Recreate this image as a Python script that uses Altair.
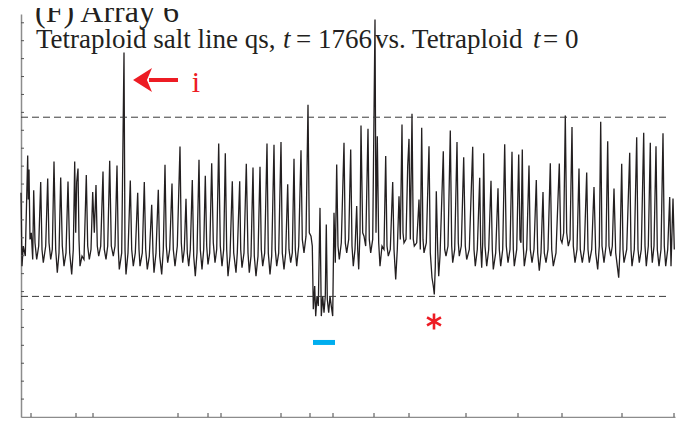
import altair as alt
import pandas as pd

# (position along genome, log2 ratio)
probes_left = [
    (0.0, 0.078), (1.0, -0.331), (2.3, -0.219), (4.3, -0.275), (6.7, 0.286), (7.3, 0.041), (8.0, 0.208),
    (9.0, -0.182), (10.3, -0.145), (11.7, -0.294), (12.7, 0.093), (14.0, -0.201), (15.7, -0.294),
    (17.7, -0.219), (19.7, 0.138), (21.0, -0.238), (22.3, -0.312), (24.7, -0.219), (26.7, 0.158),
    (28.0, -0.201), (29.7, -0.294), (31.3, -0.238), (33.0, 0.253), (34.7, -0.238), (36.3, -0.368),
    (38.0, -0.257), (39.7, 0.164), (41.3, -0.219), (43.0, -0.331), (45.0, -0.257), (47.0, 0.141),
    (48.7, -0.257), (50.7, -0.377), (52.3, -0.238), (53.7, 0.253), (54.7, -0.145), (55.7, 0.138),
    (57.0, 0.214), (58.0, -0.182), (59.0, -0.331), (61.0, -0.275), (63.0, -0.294), (65.3, 0.178),
    (66.7, -0.219), (68.3, -0.294), (70.0, -0.238), (71.7, 0.082), (73.3, -0.145), (75.0, 0.121),
    (76.3, -0.219), (77.7, -0.275), (79.7, -0.219), (82.0, 0.197), (83.3, -0.238), (85.0, -0.294),
    (86.7, -0.219), (88.7, 0.257), (90.3, -0.219), (92.3, -0.275), (94.0, -0.219), (96.0, 0.230),
    (97.3, -0.238), (98.3, -0.349), (100.7, -0.257), (103.0, 0.861), (104.0, -0.238), (105.0, -0.377),
    (107.0, -0.257), (109.3, 0.147), (110.7, -0.238), (112.3, -0.331), (114.3, -0.257), (116.7, 0.078),
    (118.0, -0.238), (119.0, -0.331), (121.3, -0.257), (123.3, 0.138), (124.7, -0.238), (126.3, -0.349),
    (128.3, -0.275), (130.7, 0.011), (132.0, -0.257), (133.0, -0.368), (135.0, -0.257), (137.3, 0.095),
    (138.7, -0.275), (140.7, -0.377), (142.3, -0.238), (144.0, 0.234), (145.3, -0.219), (146.7, -0.312),
    (148.7, -0.238), (151.0, 0.130), (152.3, -0.238), (154.0, -0.331), (156.3, -0.219), (159.0, 0.336),
    (160.3, -0.201), (161.7, -0.312), (163.3, -0.238), (165.0, 0.045), (166.3, -0.257), (167.7, -0.331),
    (169.3, -0.238), (171.3, 0.149), (172.7, -0.275), (174.3, -0.387), (176.0, -0.257), (178.0, 0.262),
    (179.3, -0.238), (181.0, -0.349), (182.7, -0.238), (184.3, 0.173), (185.7, -0.219), (187.0, -0.322),
    (188.7, -0.257), (190.7, 0.243), (192.3, -0.201), (194.0, -0.312), (195.7, -0.238), (197.7, 0.353),
    (199.3, -0.219), (201.0, -0.331), (202.7, -0.238), (204.3, 0.299), (205.7, -0.238), (207.0, -0.387),
    (209.0, -0.275), (211.3, 0.143), (212.7, -0.257), (215.0, -0.368), (216.3, -0.257),
]

probes_mid = [
    (218.7, 0.143), (219.7, -0.238), (221.0, -0.340), (223.0, -0.257), (225.3, 0.240), (227.0, -0.257),
    (228.3, -0.368), (230.0, -0.275), (232.0, 0.219), (233.3, -0.275), (235.0, -0.387), (237.0, -0.275),
    (239.0, 0.223), (240.3, -0.238), (241.7, -0.331), (243.7, -0.257), (246.0, 0.353), (247.3, -0.257),
    (249.0, -0.377), (250.7, -0.275), (253.0, 0.346), (254.3, -0.238), (255.7, -0.331), (257.7, -0.257),
    (260.0, 0.362), (261.3, -0.257), (263.0, -0.349), (264.7, -0.257), (266.7, 0.126), (268.0, -0.238),
    (269.7, -0.312), (271.3, -0.257), (273.0, 0.268), (274.3, -0.238), (275.7, -0.331), (277.7, -0.219),
    (280.0, 0.316), (281.3, -0.182), (283.0, -0.257), (285.0, -0.164), (287.0, 0.569), (288.3, -0.145),
    (290.0, -0.164), (291.3, -0.219), (292.3, -0.572), (293.7, -0.442), (294.7, -0.610), (296.0, -0.498),
    (297.3, -0.554), (299.0, -0.006), (300.3, -0.610), (301.7, -0.498), (303.0, -0.591), (304.3, -0.498),
    (305.3, -0.099), (306.3, -0.517), (307.7, -0.591), (309.0, -0.498), (310.3, -0.554), (311.7, -0.610),
    (313.0, -0.033), (314.3, -0.312), (315.7, 0.236), (317.0, -0.219), (318.3, -0.294), (320.3, -0.201),
    (323.0, 0.357), (324.3, -0.201), (325.7, -0.257), (327.7, -0.182), (329.7, 0.320), (331.0, -0.219),
    (332.3, -0.331), (334.0, -0.238), (335.7, 0.004), (336.7, -0.238), (337.7, -0.349), (339.0, -0.145),
    (340.0, 0.454), (341.7, -0.145), (343.0, -0.164), (344.7, -0.219), (347.0, 0.435), (348.3, -0.182),
    (349.7, -0.257), (351.7, -0.182), (354.0, 1.045), (355.0, -0.145), (356.3, 0.394), (357.7, -0.201),
    (359.0, -0.331), (361.0, -0.219), (363.0, -0.238), (364.7, 0.283), (366.0, -0.219), (367.3, -0.275),
    (369.3, -0.238), (371.7, 0.139), (373.0, -0.238), (374.7, -0.405), (376.3, -0.238), (378.0, 0.059),
    (379.3, -0.182), (381.0, 0.459), (382.0, -0.145), (383.0, -0.201), (385.0, -0.182), (386.7, 0.227),
    (388.0, 0.379), (389.3, -0.182), (391.0, 0.519), (392.3, -0.182), (393.3, -0.219), (395.7, -0.201),
    (398.0, 0.041), (399.3, -0.238), (400.7, 0.441), (402.0, -0.182), (403.0, -0.257), (405.3, -0.201),
    (408.0, 0.338), (409.3, -0.257), (411.0, -0.396), (412.3, -0.442), (413.3, -0.489), (414.3, -0.331),
    (415.3, 0.087), (416.7, -0.238), (417.7, -0.387), (419.0, -0.275),
]

probes_right = [
    (422.3, 0.310), (423.7, -0.238), (425.0, -0.275), (427.0, -0.219), (429.3, 0.426), (430.7, -0.219),
    (431.7, -0.312), (433.7, -0.238), (436.0, 0.361), (437.3, -0.201), (438.3, -0.275), (440.3, -0.219),
    (442.7, 0.277), (444.3, -0.219), (445.7, -0.294), (448.3, -0.238), (451.7, 0.335), (453.0, -0.238),
    (454.3, -0.331), (456.3, -0.238), (458.7, 0.162), (459.7, -0.219), (460.7, -0.340), (461.7, -0.201),
    (462.7, 0.299), (464.0, -0.219), (465.7, -0.331), (467.7, -0.238), (470.0, 0.145), (471.3, -0.238),
    (472.3, -0.349), (474.7, -0.257), (477.0, 0.104), (478.3, -0.238), (479.7, -0.331), (481.7, -0.238),
    (483.7, 0.349), (485.3, -0.219), (487.0, -0.312), (489.0, -0.238), (491.0, 0.307), (492.3, -0.238),
    (493.3, -0.331), (495.7, -0.238), (497.7, 0.292), (499.0, -0.182), (500.0, -0.201), (501.3, 0.320),
    (502.3, -0.219), (503.3, -0.331), (505.7, -0.238), (508.0, 0.230), (509.3, -0.238), (511.0, -0.312),
    (513.0, -0.238), (515.3, 0.149), (516.7, -0.257), (518.3, -0.357), (520.0, -0.257), (522.0, 0.082),
    (523.3, -0.257), (525.0, -0.312), (527.0, -0.238), (529.3, 0.243), (530.7, -0.238), (532.3, -0.331),
    (535.0, -0.257), (538.3, 0.242), (539.7, -0.182), (541.0, -0.201), (542.7, -0.145), (544.3, 0.509),
    (545.7, -0.145), (547.3, -0.219), (549.0, -0.182), (551.0, 0.446), (552.3, -0.219), (554.0, -0.312),
    (556.0, -0.238), (558.0, 0.214), (559.3, -0.238), (561.3, -0.312), (563.3, -0.238), (565.7, 0.191),
    (567.0, -0.238), (568.3, -0.312), (570.7, -0.238), (573.0, 0.110), (574.7, -0.257), (576.7, -0.349),
    (578.3, -0.219), (579.7, 0.474), (581.0, -0.219), (583.0, -0.312), (585.0, -0.219), (586.7, 0.366),
    (588.0, -0.219), (589.7, -0.275), (591.3, -0.219), (593.0, 0.102), (594.7, -0.257), (596.3, -0.331),
    (597.7, -0.396), (599.0, -0.238), (600.7, 0.240), (602.0, -0.238), (603.0, -0.312), (605.7, -0.238),
    (608.7, 0.301), (610.0, -0.238), (611.0, -0.331), (613.3, -0.238), (615.7, 0.388), (617.0, -0.238),
    (618.3, -0.312), (620.3, -0.238), (622.7, 0.413), (624.0, -0.219), (625.3, -0.331), (627.3, -0.219),
    (629.3, 0.357), (630.3, -0.219), (631.3, -0.312), (633.0, -0.219), (635.0, 0.338), (636.3, -0.238),
    (638.0, -0.331), (640.0, -0.238), (642.0, 0.411), (643.3, -0.219), (644.7, -0.331), (646.7, -0.238),
    (648.7, 0.054), (650.0, -0.331), (652.0, 0.046), (653.3, -0.238),
]

chromosome_bounds = [10, 55, 72, 157, 187, 200, 260, 289, 312, 353, 388, 445, 497, 541, 601, 653]
threshold_levels = [0.5, -0.5]
y_ticks = [-1.073, -0.973, -0.873, -0.773, -0.673, -0.573, -0.473, -0.373, -0.273, -0.173, -0.073,
           0.027, 0.127, 0.227, 0.327, 0.427, 0.527, 0.627, 0.727, 0.827, 0.927, 1.027]
# subtitle pieces: (text, italic)
subtitle_parts = [("Tetraploid salt line qs,", False), ("t", True), ("= 1766", False),
                  ("vs. Tetraploid", False), ("t", True), ("= 0", False)]
subtitle_part_x = [15, 262, 275, 354, 512, 522]

X_DOMAIN = [0, 654]
Y_DOMAIN = [-1.173, 1.076]
W, H = 654, 403
RED = "#ED1C24"
CYAN = "#00AEEF"
SERIF = "Liberation Serif"

df = pd.DataFrame(probes_left + probes_mid + probes_right, columns=["position", "log_ratio"])
xs = alt.Scale(domain=X_DOMAIN, nice=False, zero=False)
ys = alt.Scale(domain=Y_DOMAIN, nice=False, zero=False)
ax = alt.Axis(labels=False, ticks=False, title=None, grid=False, domainColor="#8c8c8c", domainWidth=1.5)

line = alt.Chart(df).mark_line(color="#231f20", strokeWidth=1.3).encode(
    x=alt.X("position:Q", scale=xs, axis=ax),
    y=alt.Y("log_ratio:Q", scale=ys, axis=ax),
)

dashed = alt.Chart(pd.DataFrame({"level": threshold_levels})).mark_rule(
    color="#3a3a3a", strokeWidth=1, strokeDash=[7, 4]
).encode(y=alt.Y("level:Q", scale=ys, axis=ax), x=alt.value(0), x2=alt.value(646))

yt = alt.Chart(pd.DataFrame({"t": y_ticks})).mark_rule(color="#555555", strokeWidth=1).encode(
    y=alt.Y("t:Q", scale=ys, axis=ax), x=alt.value(0), x2=alt.value(3))

xt = alt.Chart(pd.DataFrame({"b": chromosome_bounds})).mark_rule(color="#444444", strokeWidth=1).encode(
    x=alt.X("b:Q", scale=xs, axis=ax), y=alt.value(H), y2=alt.value(H - 4))

one = alt.Data(values=[{}])


def txt(s, x, y, size, color="#231f20", style="normal", align="left"):
    return alt.Chart(one).mark_text(
        align=align, baseline="alphabetic", font=SERIF, fontSize=size, color=color, fontStyle=style
    ).encode(x=alt.value(x), y=alt.value(y), text=alt.value(s))


title = txt("(F) Array 6", 14, 8, 32)
sub = [txt(w, x, 34, 27, style="italic" if it else "normal")
       for (w, it), x in zip(subtitle_parts, subtitle_part_x)]

arrow_shaft = alt.Chart(one).mark_rule(color=RED, strokeWidth=4).encode(
    x=alt.value(128), x2=alt.value(157), y=alt.value(66))
arrow_head = alt.Chart(one).mark_point(
    shape="M-0.83,0L0.75,-1L0.33,0L0.75,1Z", size=576, filled=True, color=RED, opacity=1
).encode(x=alt.value(122), y=alt.value(66))
label_i = txt("i", 175, 78, 30, color=RED, align="center")

blue_bar = alt.Chart(one).mark_rule(color=CYAN, strokeWidth=5).encode(
    x=alt.datum(292, scale=xs), x2=alt.datum(314), y=alt.datum(-0.757, scale=ys))
star = alt.Chart(one).mark_point(
    shape="M0,-1L0,1M-0.87,-0.5L0.87,0.5M-0.87,0.5L0.87,-0.5", size=256, filled=False,
    color=RED, strokeWidth=2.6, opacity=1
).encode(x=alt.datum(413, scale=xs), y=alt.datum(-0.64, scale=ys))

chart = alt.layer(
    line, dashed, yt, xt, title, *sub, arrow_shaft, arrow_head, label_i, blue_bar, star
).properties(
    width=W, height=H, autosize="none",
    padding={"left": 13, "top": 6, "right": 4, "bottom": 1},
).configure_view(stroke=None)

chart.save("out.html", embed_options={"renderer": "svg", "actions": False})
